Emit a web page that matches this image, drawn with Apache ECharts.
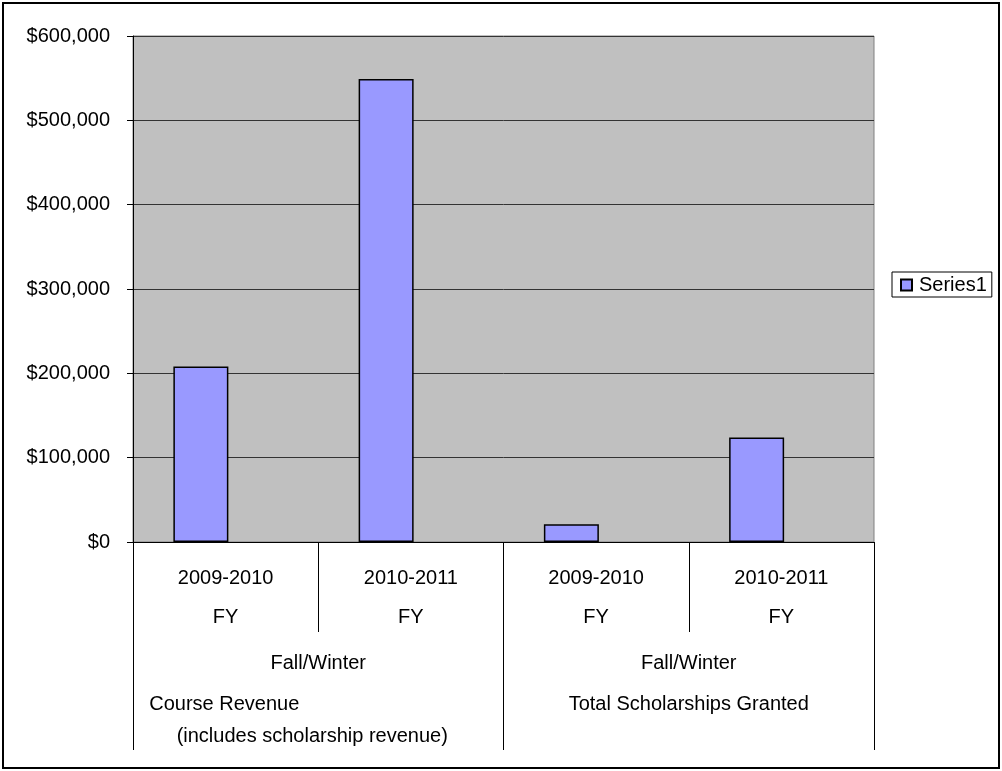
<!DOCTYPE html>
<html>
<head>
<meta charset="utf-8">
<script src="https://cdn.jsdelivr.net/npm/echarts@6/dist/echarts.min.js"></script>
<style>
html,body{margin:0;padding:0;background:#fff;}
#c{width:1002px;height:771px;}
</style>
</head>
<body>
<div id="c"></div>
<script>
// Data
const periods = ['2009-2010', '2010-2011', '2009-2010', '2010-2011'];
const fiscal = ['FY', 'FY', 'FY', 'FY'];
const seasons = ['Fall/Winter', 'Fall/Winter'];
const groups = ['Course Revenue', 'Total Scholarships Granted'];
const groupNotes = ['(includes scholarship revenue)', ''];
const seriesName = 'Series1';
const values = [208000, 549000, 21000, 124000];
const emptySlot = [];   // empty second slot that Excel reserved next to Series1
const yTicks = [0, 100000, 200000, 300000, 400000, 500000, 600000];

const FONT = "'Liberation Sans', Arial, sans-serif";
const chart = echarts.init(document.getElementById('c'), null, {renderer: 'canvas'});

const option = {
  animation: false,
  backgroundColor: '#ffffff',
  textStyle: {fontFamily: FONT, color: '#000'},
  graphic: [{
    type: 'rect', silent: true, z: 100,
    shape: {x: 3, y: 3, width: 996, height: 765},
    style: {fill: 'none', stroke: '#000', lineWidth: 2}
  }],
  legend: {
    left: 892, top: 272,
    orient: 'vertical',
    borderColor: '#000', borderWidth: 1,
    padding: [3, 5, 2, 8],
    icon: 'rect', itemWidth: 11, itemHeight: 11, itemGap: 4,
    textStyle: {fontFamily: FONT, fontSize: 20, color: '#000', padding: [0, 0, 0, 2]},
    data: [seriesName]
  },
  grid: {
    left: 133, right: 128, top: 36, bottom: 229,
    show: true, backgroundColor: '#c0c0c0',
    borderColor: '#808080', borderWidth: 1
  },
  xAxis: [{
    type: 'category',
    data: periods.map((p, i) => i),
    position: 'bottom',
    axisLine: {show: true, lineStyle: {color: '#000', width: 1}},
    axisTick: {show: true, length: 90, interval: 0, lineStyle: {color: '#000', width: 1}},
    axisLabel: {
      interval: 0, margin: 17,
      formatter: (v, i) => '{p|' + periods[i] + '}\n{f|' + fiscal[i] + '}',
      rich: {
        p: {fontFamily: FONT, fontSize: 20, color: '#000', lineHeight: 39},
        f: {fontFamily: FONT, fontSize: 20, color: '#000', lineHeight: 39}
      }
    },
    splitLine: {show: false}
  }, {
    type: 'category',
    data: groups.map((g, i) => i),
    position: 'bottom',
    axisLine: {show: false},
    axisTick: {show: true, length: 208, interval: 0, lineStyle: {color: '#000', width: 1}},
    axisLabel: {
      interval: 0, margin: 101,
      formatter: (v, i) => {
        let s = '{s|' + seasons[i] + '}\n';
        if (groupNotes[i]) {
          s += '{c|' + groups[i] + '}\n{d|' + groupNotes[i] + '}';
        } else {
          s += '{t|' + groups[i] + '}';
        }
        return s;
      },
      rich: {
        s: {fontFamily: FONT, fontSize: 20, color: '#000', lineHeight: 40},
        c: {fontFamily: FONT, fontSize: 20, color: '#000', lineHeight: 42, padding: [0, 188, 0, 0]},
        d: {fontFamily: FONT, fontSize: 20, color: '#000', lineHeight: 22, padding: [0, 12, 0, 0]},
        t: {fontFamily: FONT, fontSize: 20, color: '#000', lineHeight: 42}
      }
    },
    splitLine: {show: false}
  }],
  yAxis: {
    type: 'value',
    min: yTicks[0], max: yTicks[yTicks.length - 1], interval: yTicks[1] - yTicks[0],
    axisLine: {show: true, lineStyle: {color: '#000', width: 1}},
    axisTick: {show: true, inside: false, length: 6, lineStyle: {color: '#000'}},
    axisLabel: {
      margin: 23, fontFamily: FONT, fontSize: 20, color: '#000',
      formatter: v => '$' + v.toLocaleString('en-US')
    },
    splitLine: {show: true, lineStyle: {color: '#333', width: 1}}
  },
  series: [{
    name: seriesName,
    type: 'bar',
    xAxisIndex: 0,
    data: values,
    barWidth: 55,
    barGap: '-10%',
    itemStyle: {color: '#9999ff', borderColor: '#000', borderWidth: 1.5}
  }, {
    name: 'slot',
    type: 'bar',
    xAxisIndex: 0,
    data: emptySlot,
    barWidth: 55,
    barGap: '-10%',
    silent: true,
    itemStyle: {color: 'transparent'}
  }]
};
chart.setOption(option);
</script>
</body>
</html>
